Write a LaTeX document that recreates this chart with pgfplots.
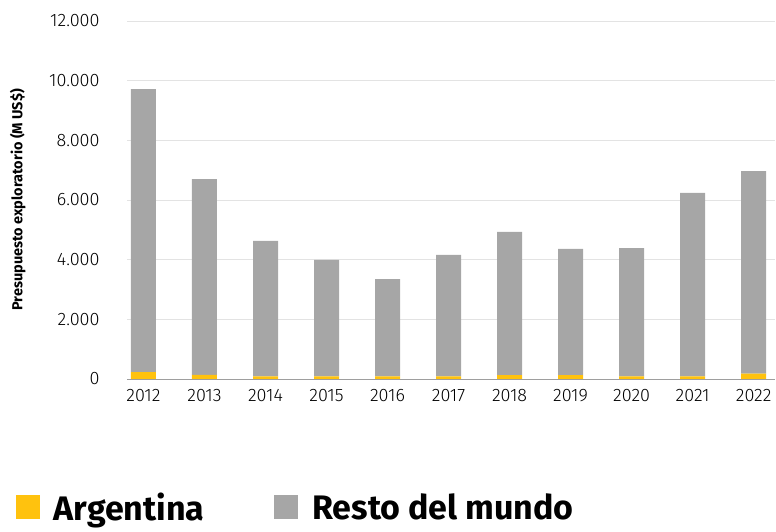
\documentclass[border=0pt]{standalone}
\usepackage{fontspec}
\setmainfont{Fira Sans}
\newfontfamily\ligera{Fira Sans Light}
\usepackage{pgfplots}
\pgfplotsset{compat=1.18}
\definecolor{arg}{HTML}{FFC20E}
\definecolor{resto}{HTML}{A6A6A6}
\definecolor{grilla}{HTML}{E3E3E3}
\definecolor{eje}{HTML}{9E9E9E}

\begin{document}
\begin{tikzpicture}
\useasboundingbox (0,0) rectangle (776bp,532bp);
\begin{axis}[
    at={(127bp,153bp)}, anchor=south west,
    scale only axis,
    width=648bp, height=358bp,
    ybar stacked,
    bar width=25bp,
    xmin=-0.27, xmax=10.35,
    ymin=0, ymax=12000,
    xtick=data,
    xticklabels={2012,2013,2014,2015,2016,2017,2018,2019,2020,2021,2022},
    ytick={0,2000,...,12000},
    ymajorgrids=true,
    grid style={grilla, line width=0.8pt},
    axis x line=bottom,
    axis y line=left,
    x axis line style={-, eje, line width=1pt},
    y axis line style={draw=none},
    major tick length=0pt,
    scaled y ticks=false,
    /pgf/number format/.cd, 1000 sep={.}, assume math mode=true,
    /pgfplots/.cd,
    ticklabel style={font=\ligera\fontsize{18bp}{20bp}\selectfont, text=black},
    yticklabel style={xshift=-24bp},
    xticklabel style={yshift=-7bp},
    ylabel={Presupuesto exploratorio (M US\$)},
    ylabel style={font=\fontsize{14.5bp}{16bp}\selectfont\bfseries, at={(axis description cs:-0.151,0.5)}, anchor=south},
    legend columns=2,
    legend style={draw=none, fill=none, inner sep=0pt,
        at={(axis description cs:-0.172,-0.405)}, anchor=south west,
        font=\fontsize{34bp}{38bp}\selectfont\bfseries,
        /tikz/every odd column/.style={column sep=12bp},
        /tikz/every even column/.style={column sep=68bp}},
    legend cell align=left,
]
\addplot[fill=arg, draw=none,
    legend image code/.code={\fill[arg] (0bp,-12bp) rectangle (24bp,12bp);}]
    coordinates {(0,230) (1,140) (2,90) (3,90) (4,90) (5,90) (6,130) (7,130) (8,90) (9,90) (10,180)};
\addplot[fill=resto, draw=none,
    legend image code/.code={\fill[resto] (0bp,-12bp) rectangle (24bp,12bp);}]
    coordinates {(0,9490) (1,6560) (2,4540) (3,3900) (4,3260) (5,4070) (6,4800) (7,4230) (8,4300) (9,6150) (10,6790)};
\legend{Argentina, Resto del mundo}
\end{axis}
\end{tikzpicture}
\end{document}
